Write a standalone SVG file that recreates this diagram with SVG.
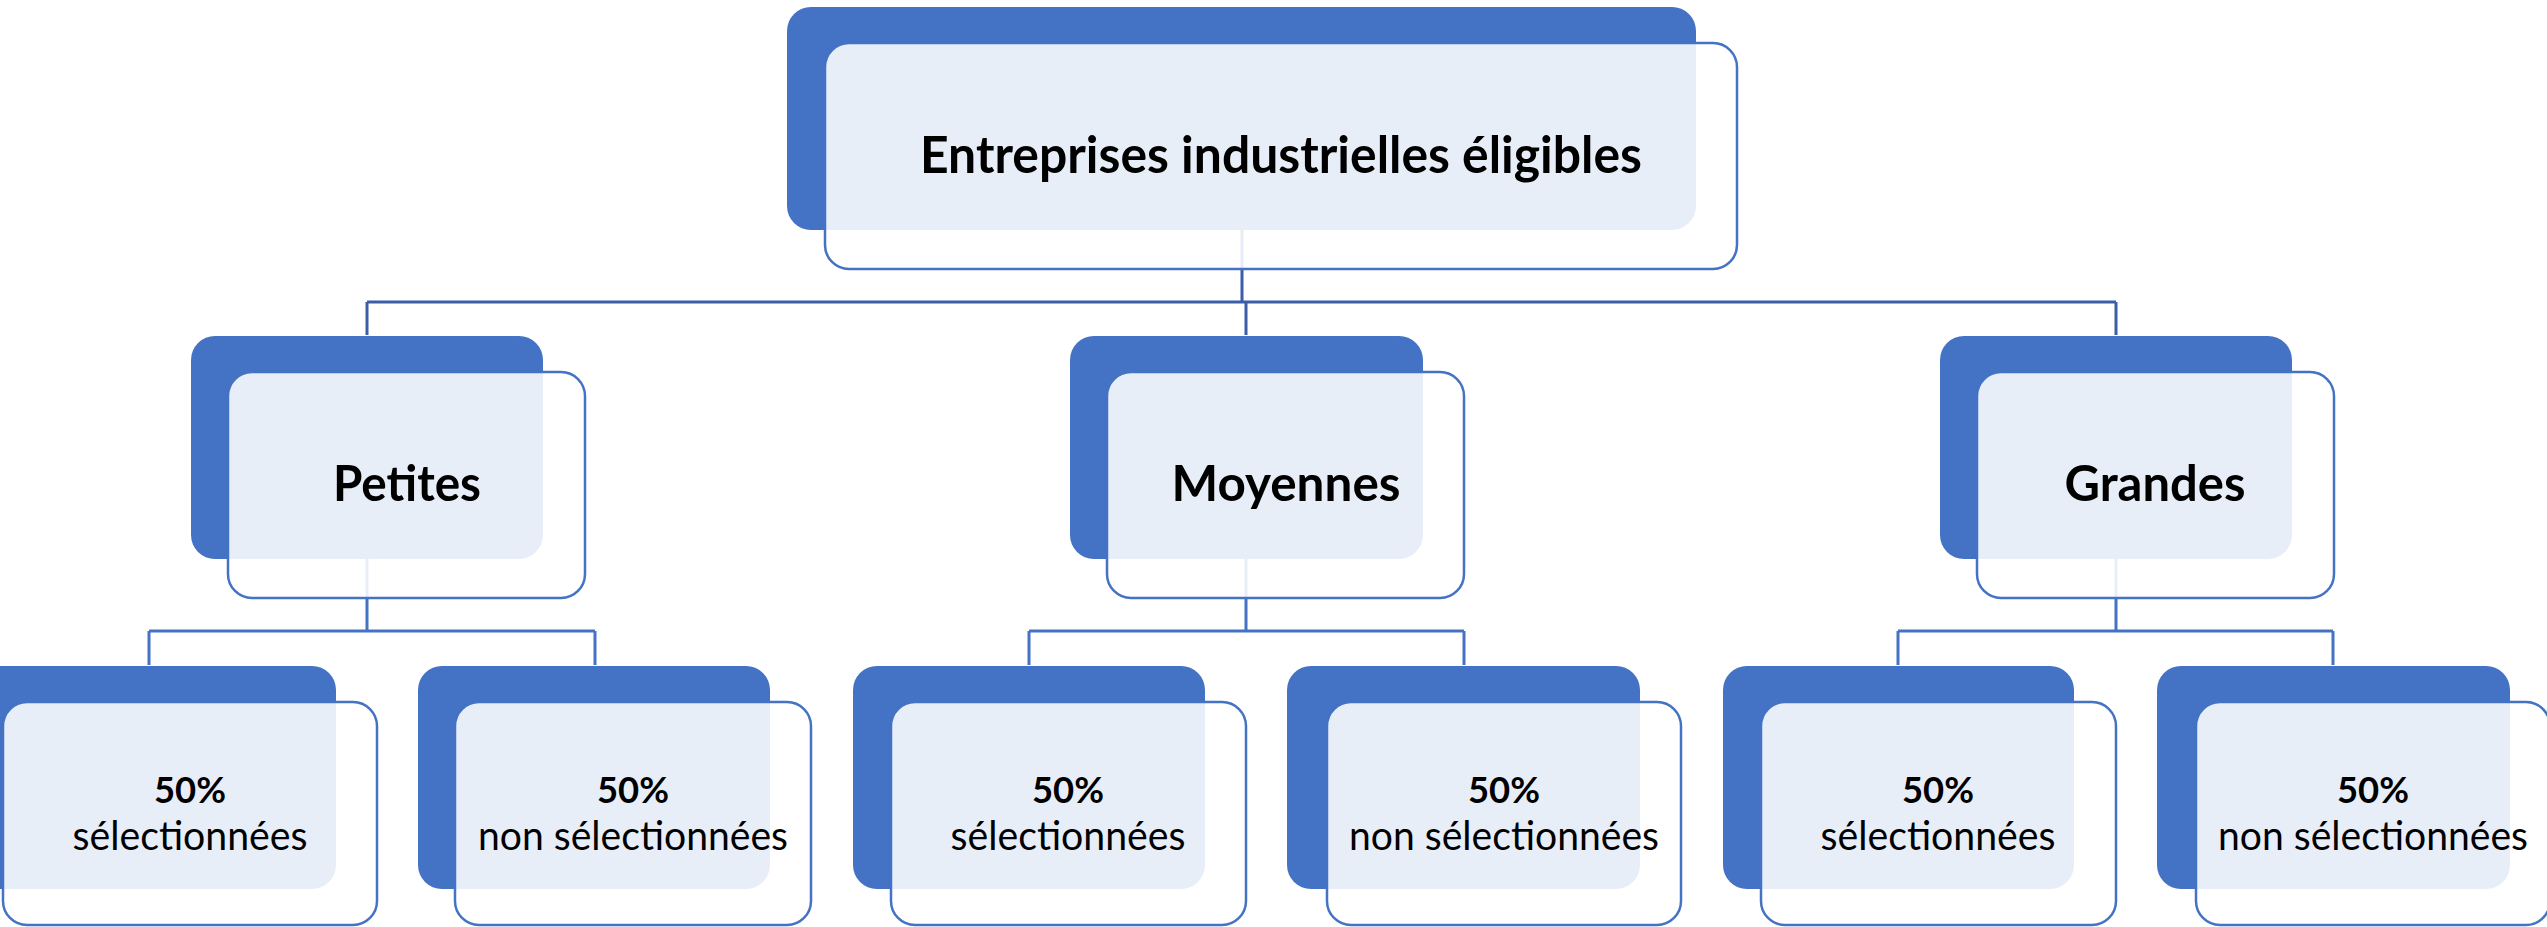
<svg xmlns="http://www.w3.org/2000/svg" width="2547" height="927" viewBox="0 0 2547 927">
<style>
.back{fill:#4472C4;}
.front{fill:#FFFFFF;fill-opacity:0.88;stroke:#4472C4;stroke-width:2.5;}
.c1{fill:none;stroke:#3A5FA8;stroke-width:3;}
.c2{fill:none;stroke:#4472C4;stroke-width:3;}
.t1{font-family:Lato,"Liberation Sans",sans-serif;font-weight:bold;fill:#000;text-anchor:middle;}
.t2{font-family:Lato,"Liberation Sans",sans-serif;font-weight:normal;fill:#000;text-anchor:middle;}
</style>
<rect width="2547" height="927" fill="#FFFFFF"/>
<g id="connectors">
<path class="c1" d="M1242 230 V302 M367 302 H2116 M367 302 V335 M1246 302 V335 M2116 302 V335"/>
<path class="c2" d="M367 559 V631 M149 631 H595 M149 631 V665 M595 631 V665"/>
<path class="c2" d="M1246 559 V631 M1029 631 H1464 M1029 631 V665 M1464 631 V665"/>
<path class="c2" d="M2116 559 V631 M1898 631 H2333 M1898 631 V665 M2333 631 V665"/>
</g>
<g id="node-root">
<rect class="back" x="787" y="7" width="909" height="223" rx="24"/>
<rect class="front" x="825" y="43" width="912" height="226" rx="24"/>
<text class="t1" x="1281" y="173" font-size="51" textLength="722" lengthAdjust="spacingAndGlyphs">Entreprises industrielles éligibles</text>
</g>
<g id="node-petites">
<rect class="back" x="191" y="336" width="352" height="223" rx="24"/>
<rect class="front" x="228" y="372" width="357" height="226" rx="24"/>
<text class="t1" x="407" y="501" font-size="50" textLength="148" lengthAdjust="spacingAndGlyphs">Petites</text>
</g>
<g id="node-moyennes">
<rect class="back" x="1070" y="336" width="353" height="223" rx="24"/>
<rect class="front" x="1107" y="372" width="357" height="226" rx="24"/>
<text class="t1" x="1286" y="501" font-size="50" textLength="229" lengthAdjust="spacingAndGlyphs">Moyennes</text>
</g>
<g id="node-grandes">
<rect class="back" x="1940" y="336" width="352" height="223" rx="24"/>
<rect class="front" x="1977" y="372" width="357" height="226" rx="24"/>
<text class="t1" x="2155" y="501" font-size="50" textLength="181" lengthAdjust="spacingAndGlyphs">Grandes</text>
</g>
<g id="leaf-petites-sel">
<rect class="back" x="-38" y="666" width="374" height="223" rx="24"/>
<rect class="front" x="3" y="702" width="374" height="223" rx="24"/>
<text class="t1" x="190" y="803" font-size="37" textLength="72" lengthAdjust="spacingAndGlyphs">50%</text>
<text class="t2" x="190" y="850" font-size="41" textLength="235" lengthAdjust="spacingAndGlyphs">sélectionnées</text>
</g>
<g id="leaf-petites-non">
<rect class="back" x="418" y="666" width="352" height="223" rx="24"/>
<rect class="front" x="455" y="702" width="356" height="223" rx="24"/>
<text class="t1" x="633" y="803" font-size="37" textLength="72" lengthAdjust="spacingAndGlyphs">50%</text>
<text class="t2" x="633" y="850" font-size="41" textLength="310" lengthAdjust="spacingAndGlyphs">non sélectionnées</text>
</g>
<g id="leaf-moyennes-sel">
<rect class="back" x="853" y="666" width="352" height="223" rx="24"/>
<rect class="front" x="891" y="702" width="355" height="223" rx="24"/>
<text class="t1" x="1068" y="803" font-size="37" textLength="72" lengthAdjust="spacingAndGlyphs">50%</text>
<text class="t2" x="1068" y="850" font-size="41" textLength="235" lengthAdjust="spacingAndGlyphs">sélectionnées</text>
</g>
<g id="leaf-moyennes-non">
<rect class="back" x="1287" y="666" width="353" height="223" rx="24"/>
<rect class="front" x="1327" y="702" width="354" height="223" rx="24"/>
<text class="t1" x="1504" y="803" font-size="37" textLength="72" lengthAdjust="spacingAndGlyphs">50%</text>
<text class="t2" x="1504" y="850" font-size="41" textLength="310" lengthAdjust="spacingAndGlyphs">non sélectionnées</text>
</g>
<g id="leaf-grandes-sel">
<rect class="back" x="1723" y="666" width="351" height="223" rx="24"/>
<rect class="front" x="1761" y="702" width="355" height="223" rx="24"/>
<text class="t1" x="1938" y="803" font-size="37" textLength="72" lengthAdjust="spacingAndGlyphs">50%</text>
<text class="t2" x="1938" y="850" font-size="41" textLength="235" lengthAdjust="spacingAndGlyphs">sélectionnées</text>
</g>
<g id="leaf-grandes-non">
<rect class="back" x="2157" y="666" width="353" height="223" rx="24"/>
<rect class="front" x="2196" y="702" width="354" height="223" rx="24"/>
<text class="t1" x="2373" y="803" font-size="37" textLength="72" lengthAdjust="spacingAndGlyphs">50%</text>
<text class="t2" x="2373" y="850" font-size="41" textLength="310" lengthAdjust="spacingAndGlyphs">non sélectionnées</text>
</g>
</svg>
